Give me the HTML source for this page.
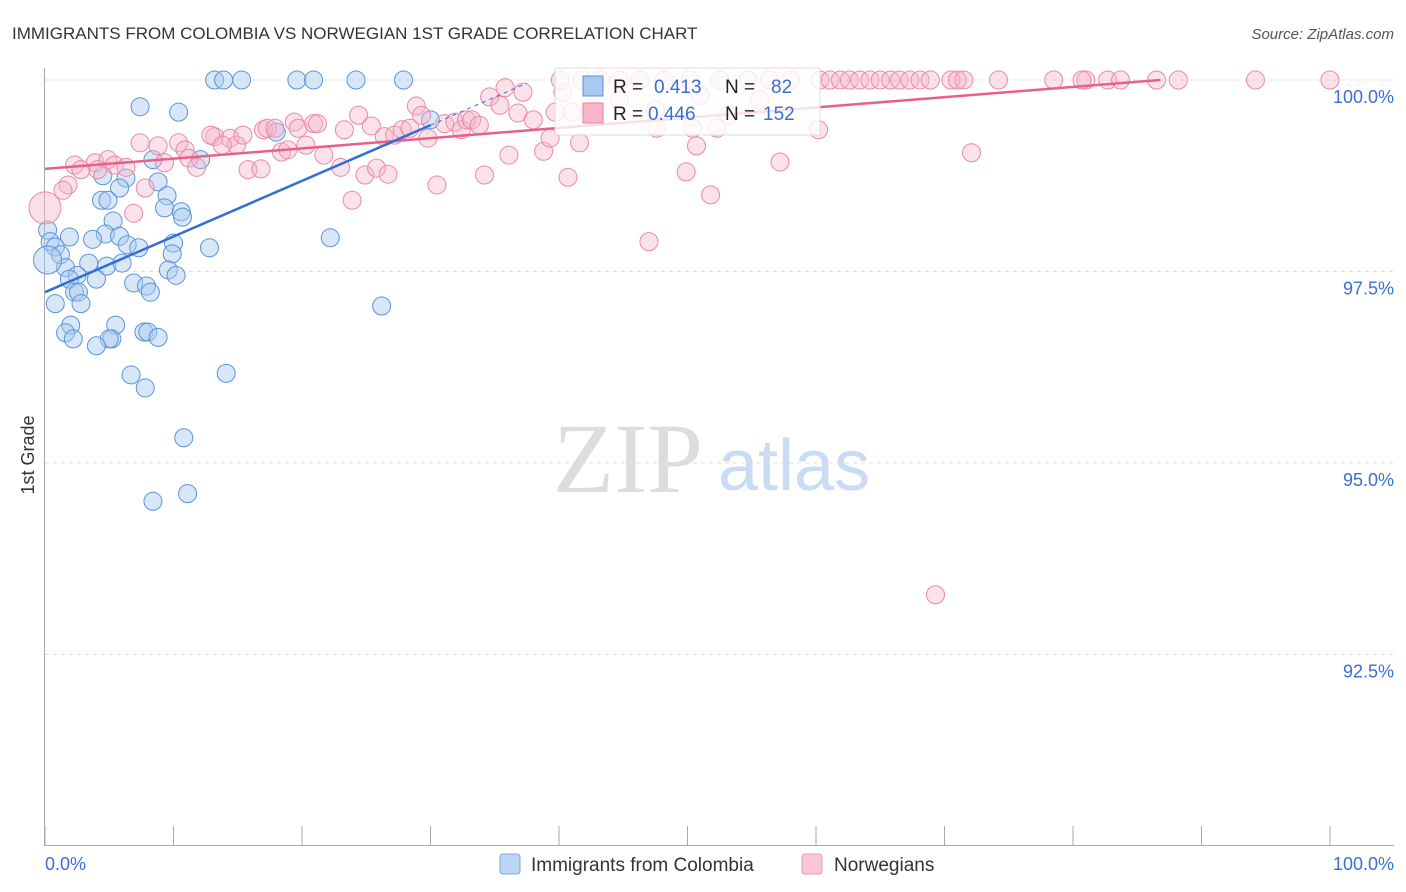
<!DOCTYPE html>
<html><head><meta charset="utf-8"><style>
body{margin:0;background:#fff;font-family:"Liberation Sans",sans-serif}
svg{display:block}
</style></head><body>
<svg width="1406" height="892" xmlns="http://www.w3.org/2000/svg">
<text x="12" y="39" font-size="17" fill="#333">IMMIGRANTS FROM COLOMBIA VS NORWEGIAN 1ST GRADE CORRELATION CHART</text>
<text x="1394" y="39" font-size="15" fill="#555" font-style="italic" text-anchor="end">Source: ZipAtlas.com</text>
<g>
<text x="553" y="492" font-size="100" font-family="Liberation Serif" fill="#ddd">ZIP</text>
<text x="718" y="490" font-size="72" fill="#c9dcf3">atlas</text>
</g>
<g id="grid"></g>
<g id="axes"></g>
<g id="pts"></g>
<g id="trend"></g>
<g>
<rect x="555" y="68" width="265" height="67" fill="#fff" fill-opacity="0.8" stroke="#ddd"/>
<rect x="583" y="76" width="20" height="20" fill="#a9c9f0" stroke="#5b93d9"/>
<text x="613" y="93" font-size="19" fill="#222">R = </text><text x="654" y="93" font-size="19" fill="#3a6fd1">0.413</text>
<text x="725" y="93" font-size="19" fill="#222">N = </text><text x="771" y="93" font-size="19" fill="#3a6fd1">82</text>
<rect x="583" y="103" width="20" height="20" fill="#f6b5c8" stroke="#e8819f"/>
<text x="613" y="120" font-size="19" fill="#222">R = </text><text x="648" y="120" font-size="19" fill="#3a6fd1">0.446</text>
<text x="725" y="120" font-size="19" fill="#222">N = </text><text x="763" y="120" font-size="19" fill="#3a6fd1">152</text>
</g>
<g>
<rect x="500" y="854" width="20" height="20" rx="3" fill="#bcd5f5" stroke="#7aa7e3"/>
<text x="531" y="871" font-size="19" fill="#333">Immigrants from Colombia</text>
<rect x="802" y="854" width="20" height="20" rx="3" fill="#f9c6d5" stroke="#ee9ab3"/>
<text x="834" y="871" font-size="19" fill="#333">Norwegians</text>
</g>
<text transform="translate(34,455) rotate(-90)" font-size="18" fill="#333" text-anchor="middle">1st Grade</text>
<text x="45" y="870" font-size="18" fill="#3a6fd1">0.0%</text>
<text x="1394" y="870" font-size="18" fill="#3a6fd1" text-anchor="end">100.0%</text>
</svg>
<script>
const yTicks=[100,97.5,95,92.5];
const yTickLabels=["100.0%","97.5%","95.0%","92.5%"];
const xTicks=[0,10,20,30,40,50,60,70,80,90,100];
const blueX=[13.2,13.9,15.3,19.6,20.9,24.2,27.9,7.4,10.4,18.0,8.4,12.1,4.5,6.3,8.8,5.8,9.5,4.4,4.9,9.3,10.6,10.7,5.3,0.2,4.7,1.9,3.7,0.4,5.8,22.2,0.8,6.4,7.3,10.0,12.8,1.2,9.9,3.4,4.8,6.0,1.6,2.5,9.6,10.2,4.0,1.9,6.9,7.9,8.2,2.3,2.6,0.8,2.8,26.2,5.5,2.0,1.6,2.2,5.2,5.0,4.0,7.7,8.0,8.8,6.7,7.8,14.1,10.8,8.4,11.1,0.2,30.0];
const blueY=[100,100,100,100,100,100,100,99.65,99.58,99.32,98.96,98.96,98.75,98.72,98.67,98.59,98.49,98.43,98.43,98.33,98.28,98.21,98.16,98.04,97.99,97.95,97.92,97.89,97.96,97.94,97.82,97.85,97.81,97.87,97.81,97.72,97.73,97.61,97.57,97.61,97.55,97.45,97.52,97.45,97.40,97.40,97.35,97.31,97.23,97.23,97.23,97.08,97.08,97.05,96.80,96.80,96.70,96.62,96.62,96.62,96.53,96.71,96.71,96.64,96.15,95.98,96.17,95.33,94.50,94.60,97.65,99.48];
const pinkX=[1.8,1.4,2.3,3.9,4.9,4.1,2.8,5.4,6.3,7.4,6.9,7.8,8.8,9.3,10.4,10.9,11.2,11.8,13.2,12.9,14.4,14.9,15.4,13.8,15.8,17.0,16.8,17.3,17.9,18.4,18.9,19.4,19.7,20.3,20.9,21.2,21.7,23.3,23.0,23.9,24.4,24.9,25.4,25.8,26.7,26.4,27.2,27.8,28.4,28.9,29.3,29.8,30.5,31.1,31.9,32.4,32.8,33.2,33.8,34.2,34.6,35.4,35.8,36.1,36.8,37.2,38.0,38.8,39.3,39.7,40.3,40.7,41.0,41.6,42.6,47.0,47.6,50.4,50.7,49.9,51.8,52.3,53.2,57.2,60.2,69.3,72.1,44.7,47.5,51.0,55.6,40.1,41.8,43.2,44.7,46.3,48.2,50.2,52.5,54.7,56.4,58.0,60.3,61.1,61.9,62.6,63.4,64.2,65.0,65.8,66.5,67.3,68.1,68.9,70.5,71.0,71.5,74.2,78.5,81.0,80.7,82.7,83.7,86.5,88.2,94.2,100];
const pinkY=[98.63,98.56,98.89,98.92,98.96,98.83,98.83,98.89,98.86,99.18,98.26,98.59,99.14,98.92,99.18,99.09,98.98,98.86,99.26,99.28,99.24,99.15,99.28,99.15,98.83,99.35,98.84,99.37,99.37,99.06,99.09,99.45,99.37,99.15,99.43,99.43,99.02,99.35,98.86,98.43,99.54,98.76,99.40,98.85,98.77,99.26,99.28,99.35,99.37,99.66,99.54,99.24,98.63,99.43,99.45,99.35,99.48,99.48,99.41,98.76,99.78,99.67,99.90,99.02,99.57,99.84,99.48,99.07,99.24,99.58,99.84,98.73,99.58,99.18,99.63,97.89,99.37,99.37,99.14,98.80,98.50,99.37,99.54,98.93,99.35,93.28,99.05,99.74,99.61,99.80,99.74,100,100,100,100,100,100,100,100,100,100,100,100,100,100,100,100,100,100,100,100,100,100,100,100,100,100,100,100,100,100,100,100,100,100,100,100];
const pinkTrendX=[0,86.8];const pinkTrendY=[98.84,100];
const blueTrendX=[0,30];const blueTrendY=[97.23,99.41];
const blueDashX=[30,37.5];const blueDashY=[99.41,99.96];
const X=v=>45+v*12.85, Y=v=>80+(100-v)*76.6;
const NS="http://www.w3.org/2000/svg";
function mk(t,a,p){const e=document.createElementNS(NS,t);for(const k in a)e.setAttribute(k,a[k]);p.appendChild(e);return e;}
const grid=document.getElementById('grid'),axes=document.getElementById('axes'),pts=document.getElementById('pts'),tr=document.getElementById('trend');
yTicks.forEach((t,i)=>{
 const l=mk('line',{x1:45,x2:1394,y1:Y(t),y2:Y(t),stroke:'#ddd','stroke-dasharray':'4,4'},grid);
 
 
 const tx=mk('text',{x:1394,y:Y(t)+23,'font-size':18,fill:'#3a6fd1','text-anchor':'end'},axes);
 tx.textContent=yTickLabels[i];
 
 
});
const ya=mk('line',{x1:44.5,x2:44.5,y1:68,y2:846,stroke:'#aaa'},axes);


const xa=mk('line',{x1:45,x2:1394,y1:845.5,y2:845.5,stroke:'#aaa'},axes);


xTicks.forEach(t=>{
 const l=mk('line',{x1:X(t),x2:X(t),y1:826,y2:846,stroke:'#aaa'},axes);
 
 
});
blueX.forEach((x,i)=>{
 const big=(i===70);
 const c=mk('circle',{cx:X(x),cy:Y(blueY[i]),r:big?14:9,fill:'#a9c9f0','fill-opacity':0.45,stroke:'#5b93d9','stroke-width':1},pts);
 
 
});
pinkX.forEach((x,i)=>{
 const c=mk('circle',{cx:X(x),cy:Y(pinkY[i]),r:9,fill:'#f6b5c8','fill-opacity':0.4,stroke:'#ec89a6','stroke-width':1},pts);
 
 
});
const bigP=mk('circle',{cx:X(0),cy:Y(98.33),r:16,fill:'#f6b5c8','fill-opacity':0.45,stroke:'#ec89a6'},pts);


const pt=mk('line',{x1:X(pinkTrendX[0]),y1:Y(pinkTrendY[0]),x2:X(pinkTrendX[1]),y2:Y(pinkTrendY[1]),stroke:'#e8608a','stroke-width':2.5},tr);


const bt=mk('line',{x1:X(blueTrendX[0]),y1:Y(blueTrendY[0]),x2:X(blueTrendX[1]),y2:Y(blueTrendY[1]),stroke:'#2f6fd6','stroke-width':2.5},tr);


const bd=mk('line',{x1:X(blueDashX[0]),y1:Y(blueDashY[0]),x2:X(blueDashX[1]),y2:Y(blueDashY[1]),stroke:'#2f6fd6','stroke-width':1,'stroke-dasharray':'4,4'},tr);


</script>
</body></html>
